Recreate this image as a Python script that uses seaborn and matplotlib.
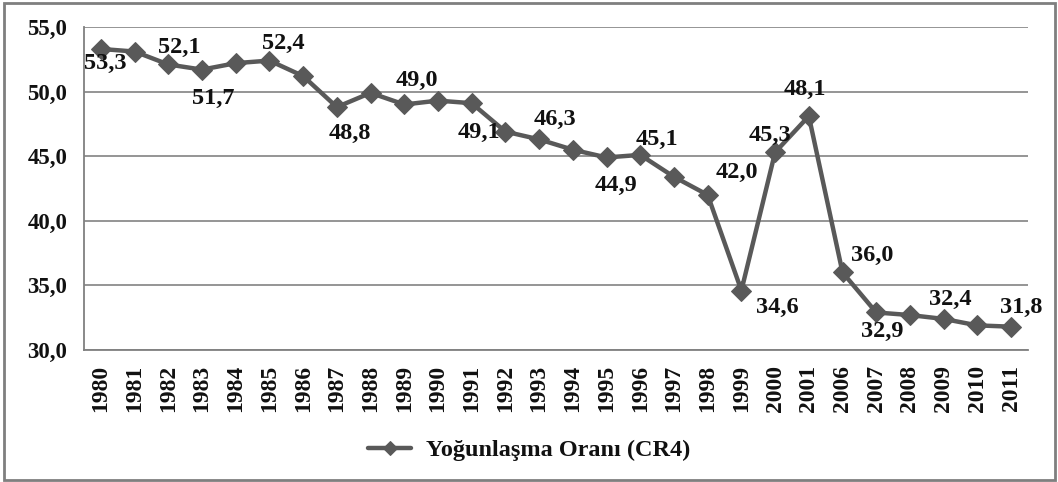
import numpy as np
import pandas as pd
import matplotlib
matplotlib.use("Agg")
import matplotlib.pyplot as plt
from matplotlib.patches import Rectangle
import seaborn as sns

years = ["1980", "1981", "1982", "1983", "1984", "1985", "1986", "1987", "1988", "1989",
         "1990", "1991", "1992", "1993", "1994", "1995", "1996", "1997", "1998", "1999",
         "2000", "2001", "2006", "2007", "2008", "2009", "2010", "2011"]
cr4 = [53.3, 53.1, 52.1, 51.7, 52.2, 52.4, 51.2, 48.8, 49.9, 49.0,
       49.3, 49.1, 46.9, 46.3, 45.5, 44.9, 45.1, 43.4, 42.0, 34.6,
       45.3, 48.1, 36.0, 32.9, 32.7, 32.4, 31.9, 31.8]
labeled_years = ["1980", "1982", "1983", "1985", "1987", "1989", "1991", "1993", "1995",
                 "1996", "1998", "1999", "2000", "2001", "2006", "2007", "2009", "2011"]
y_ticks = [30.0, 35.0, 40.0, 45.0, 50.0, 55.0]
series_name = "Yoğunlaşma Oranı (CR4)"

# label offsets in points (dx, dy) relative to marker
label_offsets = {
    "1980": (3, -10.5), "1982": (8, 12), "1983": (8, -21), "1985": (10, 12),
    "1987": (9, -19), "1989": (9, 17), "1991": (5, -21), "1993": (11.5, 14),
    "1995": (7, -20), "1996": (12, 11), "1998": (21, 16.5), "1999": (26, -12),
    "2000": (-3.5, 12), "2001": (-3, 19), "2006": (21.5, 12), "2007": (4, -14),
    "2009": (5, 14), "2011": (7, 14),
}

df = pd.DataFrame({"pos": np.arange(len(years)), "value": cr4})

sns.set_style("white")
plt.rcParams["font.family"] = ["Liberation Serif", "DejaVu Serif"]
plt.rcParams["font.weight"] = "bold"

fig = plt.figure(figsize=(10.58, 4.82), dpi=100)
ax = fig.add_axes([0.0794, 0.274, 0.8922, 0.670])

line_color = "#595959"
text_color = "#111111"
sns.lineplot(data=df, x="pos", y="value", ax=ax, color=line_color, linewidth=3.2,
             marker="D", markersize=10, markeredgecolor=line_color,
             markerfacecolor=line_color, label=series_name, legend=False)

ax.set_xlim(-0.5, len(years) - 0.5)
ax.set_ylim(30, 55)
ax.set_yticks(y_ticks)
ax.set_yticklabels([f"{v:.1f}".replace(".", ",") for v in y_ticks], fontsize=16.5,
                   fontweight="bold", color=text_color)
ax.set_xticks(np.arange(len(years) + 1) - 0.5)
ax.set_xticklabels([])
ax.set_xticks(np.arange(len(years)), minor=True)
ax.set_xticklabels(years, minor=True, rotation=90, fontsize=17, fontweight="bold",
                   color=text_color)
ax.tick_params(axis="x", which="major", direction="out", length=7, width=1.2, color="#808080")
ax.tick_params(axis="x", which="minor", length=0, pad=11)
ax.tick_params(axis="y", direction="out", length=7, width=1.2, color="#808080", pad=5)
ax.set_xlabel("")
ax.set_ylabel("")

ax.grid(axis="y", color="#8c8c8c", linewidth=1.3)
ax.set_axisbelow(True)
for s in ["top", "right"]:
    ax.spines[s].set_visible(False)
for s in ["left", "bottom"]:
    ax.spines[s].set_color("#808080")
    ax.spines[s].set_linewidth(1.3)

for i, (yr, v) in enumerate(zip(years, cr4)):
    if yr in labeled_years:
        dx, dy = label_offsets[yr]
        ax.annotate(f"{v:.1f}".replace(".", ","), (i, v), xytext=(dx, dy),
                    textcoords="offset points", ha="center", va="center",
                    fontsize=17.5, fontweight="bold", color=text_color)

handles, labels = ax.get_legend_handles_labels()
fig.legend(handles, labels, loc="center", bbox_to_anchor=(0.5, 0.066), frameon=False,
           handlelength=1.8, handletextpad=0.6, markerscale=0.7,
           prop={"size": 17.5, "weight": "bold"}, labelcolor=text_color)

fig.patches.append(Rectangle((0.004, 0.004), 0.993, 0.99, transform=fig.transFigure,
                             fill=False, edgecolor="#7f7f7f", linewidth=2))

fig.savefig("out.png", dpi=100)
